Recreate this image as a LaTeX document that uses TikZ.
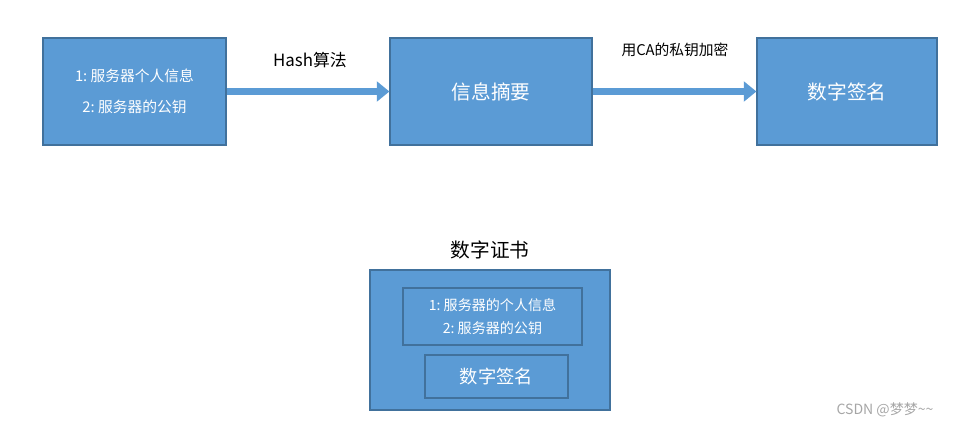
\documentclass[tikz,border=0pt]{standalone}
\usepackage{fontspec}
\setmainfont{Noto Sans CJK SC}
\usetikzlibrary{arrows.meta}
\definecolor{boxblue}{HTML}{5B9BD5}
\definecolor{edgeblue}{HTML}{41719C}
\tikzset{
  blockbox/.style={draw=edgeblue, fill=boxblue, text=white, line width=0.8pt, inner sep=0pt},
  flowarrow/.style={draw=boxblue, line width=5pt, -{Triangle[length=9pt,width=14pt]}},
  outlinebox/.style={draw=edgeblue, line width=0.8pt, text=white, inner sep=0pt}
}
\begin{document}
\begin{tikzpicture}[x=0.025cm, y=-0.025cm]
  \useasboundingbox (0, 0) rectangle (970, 428);
  % top row
  \node [blockbox, minimum width=183*0.025cm, minimum height=107*0.025cm, align=center, font=\fontsize{10.5}{22}\selectfont] (info) at (134.5, 91.5)
    {1:\ 服务器个人信息\\2:\ 服务器的公钥};
  \node [blockbox, minimum width=202*0.025cm, minimum height=107*0.025cm, font=\fontsize{14}{16}\selectfont] (digest) at (491, 91.5) {信息摘要};
  \node [blockbox, minimum width=180*0.025cm, minimum height=107*0.025cm, font=\fontsize{14}{16}\selectfont] (sign) at (847, 91.5) {数字签名};
  % arrows and labels
  \draw [flowarrow] (info.east) -- (digest.west);
  \draw [flowarrow] (digest.east) -- (sign.west);
  \node [font=\fontsize{12}{14}\selectfont] (hashlabel) at (310, 60) {Hash算法};
  \node [font=\fontsize{10.5}{12}\selectfont] (calabel) at (675, 50) {用CA的私钥加密};
  % certificate
  \node [font=\fontsize{14}{16}\selectfont] (certtitle) at (490, 250) {数字证书};
  \node [blockbox, minimum width=240*0.025cm, minimum height=140*0.025cm] (cert) at (490, 340) {};
  \node [outlinebox, minimum width=179*0.025cm, minimum height=57*0.025cm, align=center, font=\fontsize{10}{16}\selectfont] (certinfo) at (492.5, 316.5)
    {1:\ 服务器的个人信息\\2:\ 服务器的公钥};
  \node [outlinebox, minimum width=143*0.025cm, minimum height=43*0.025cm, font=\fontsize{13}{15}\selectfont] (certsign) at (496.5, 376.5) {数字签名};
  % watermark
  \node [text=gray!70, font=\fontsize{10}{12}\selectfont] (mark) at (885, 410) {CSDN @梦梦\textasciitilde\textasciitilde};
\end{tikzpicture}
\end{document}
